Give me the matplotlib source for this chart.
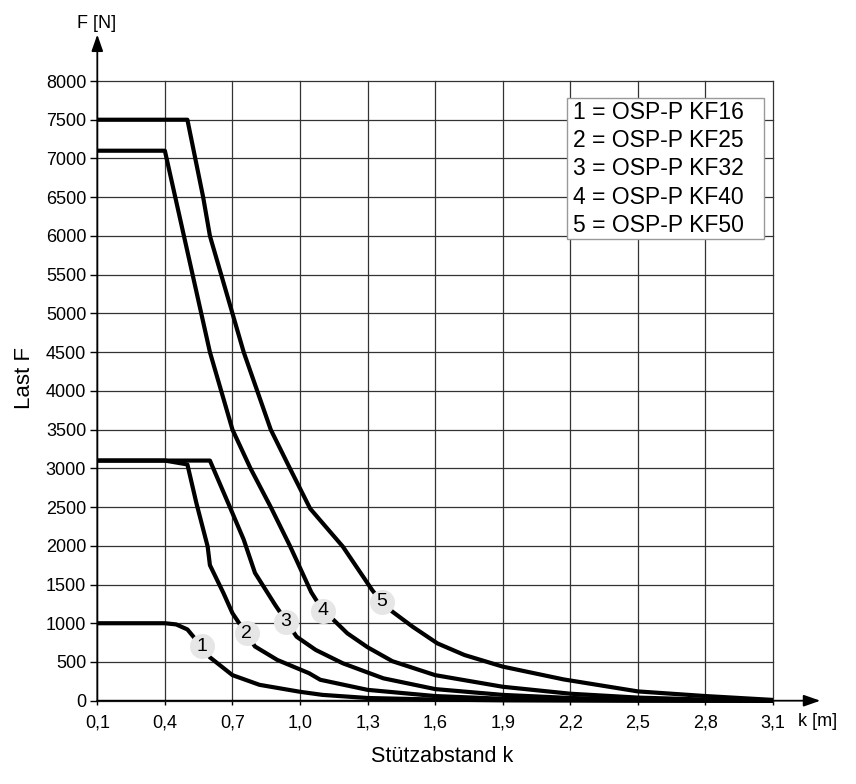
import matplotlib
matplotlib.use('Agg')
import matplotlib.pyplot as plt
from matplotlib.patches import Rectangle

plt.rcParams['font.family'] = ['Liberation Sans', 'DejaVu Sans']

# ---------------- data ----------------
x_ticks = [0.1, 0.4, 0.7, 1.0, 1.3, 1.6, 1.9, 2.2, 2.5, 2.8, 3.1]
x_tick_labels = ['0,1', '0,4', '0,7', '1,0', '1,3', '1,6', '1,9', '2,2', '2,5', '2,8', '3,1']
y_ticks = list(range(0, 8001, 500))
y_tick_labels = [str(v) for v in y_ticks]

# 1 = OSP-P KF16
k1 = [0.1, 0.4, 0.45, 0.5, 0.56, 0.6, 0.7, 0.82, 1.0, 1.1, 1.3, 1.6, 1.9, 2.2, 2.5, 2.8, 3.1]
f1 = [1000, 1000, 985, 920, 710, 560, 330, 205, 115, 75, 35, 15, 5, 2, 0, 0, 0]
# 2 = OSP-P KF25
k2 = [0.1, 0.4, 0.5, 0.54, 0.59, 0.6, 0.66, 0.7, 0.76, 0.8, 0.9, 1.04, 1.09, 1.3, 1.6, 1.9, 2.2, 2.5, 2.8, 3.1]
f2 = [3100, 3100, 3050, 2550, 1990, 1750, 1390, 1130, 870, 700, 525, 355, 270, 140, 60, 25, 10, 5, 2, 0]
# 3 = OSP-P KF32
k3 = [0.1, 0.6, 0.69, 0.75, 0.8, 0.89, 0.94, 0.985, 1.07, 1.19, 1.37, 1.6, 1.9, 2.2, 2.5, 2.8, 3.1]
f3 = [3100, 3100, 2490, 2080, 1650, 1235, 1020, 826, 655, 483, 289, 150, 75, 35, 15, 5, 0]
# 4 = OSP-P KF40
k4 = [0.1, 0.4, 0.5, 0.6, 0.65, 0.7, 0.78, 0.87, 0.955, 1.05, 1.1, 1.15, 1.21, 1.3, 1.41, 1.6, 1.9, 2.2, 2.5, 2.8, 3.1]
f4 = [7100, 7100, 5800, 4500, 4000, 3500, 3000, 2500, 2000, 1400, 1170, 1040, 870, 690, 510, 330, 180, 90, 40, 15, 0]
# 5 = OSP-P KF50
k5 = [0.1, 0.5, 0.57, 0.6, 0.65, 0.7, 0.75, 0.81, 0.87, 0.955, 1.045, 1.19, 1.32, 1.36, 1.41, 1.5, 1.61, 1.73, 1.9, 2.17, 2.5, 2.8, 3.1]
f5 = [7500, 7500, 6500, 6000, 5500, 5000, 4500, 4000, 3500, 3000, 2480, 1990, 1430, 1280, 1150, 955, 740, 590, 440, 275, 120, 60, 10]

series_k = [k1, k2, k3, k4, k5]
series_f = [f1, f2, f3, f4, f5]
series_ids = ['1', '2', '3', '4', '5']
legend_lines = ['1 = OSP-P KF16', '2 = OSP-P KF25', '3 = OSP-P KF32',
                '4 = OSP-P KF40', '5 = OSP-P KF50']
# positions of the circled curve numbers (data units)
label_k = [0.563, 0.763, 0.937, 1.103, 1.362]
label_f = [700, 870, 1020, 1162, 1278]

# ---------------- figure ----------------
W, H = 856, 784
fig = plt.figure(figsize=(W / 100, H / 100), dpi=100)
L, R, T, B = 97.3, 773.0, 81.0, 700.7
ax = fig.add_axes([L / W, 1 - B / H, (R - L) / W, (B - T) / H])
ax.set_xlim(0.1, 3.1)
ax.set_ylim(0, 8000)
for s in ax.spines.values():
    s.set_visible(False)

ax.set_xticks(x_ticks, x_tick_labels)
ax.set_yticks(y_ticks, y_tick_labels)
ax.tick_params(axis='x', direction='out', length=3, width=1, pad=7, labelsize=13)
ax.tick_params(axis='y', direction='out', length=5, width=1, pad=3, labelsize=13)
ax.set_axisbelow(True)
ax.grid(True, color='#333333', lw=0.9)
for gl in ax.get_xgridlines() + ax.get_ygridlines():
    gl.set_clip_on(False)

# axes with arrows
ap = dict(arrowstyle='-|>,head_length=1.0,head_width=0.35', color='black',
          lw=1.3, shrinkA=0, shrinkB=0, mutation_scale=10)
ax.annotate('', xy=(3.31, 0), xytext=(0.1, 0), arrowprops=ap, annotation_clip=False)
ax.annotate('', xy=(0.1, 8600), xytext=(0.1, 0), arrowprops=ap, annotation_clip=False)

for k, f in zip(series_k, series_f):
    ax.plot(k, f, color='black', lw=3, solid_joinstyle='round',
            solid_capstyle='butt', zorder=3, clip_on=False)

for lk, lf, t in zip(label_k, label_f, series_ids):
    ax.plot([lk], [lf], 'o', ms=18, mfc='#e6e6e6', mec='none', zorder=4)
    ax.text(lk, lf, t, ha='center', va='center', fontsize=14, zorder=5)

# legend box
bl = (567 - L) / (R - L)
br = (764 - L) / (R - L)
bt = (B - 98) / (B - T)
bb = (B - 239) / (B - T)
ax.add_patch(Rectangle((bl, bb), br - bl, bt - bb, transform=ax.transAxes,
                       fc='white', ec='#999999', lw=1, zorder=6))
for i, line in enumerate(legend_lines):
    yb = 118.8 + i * 28.3
    ax.text((572.7 - L) / (R - L), (B - yb) / (B - T), line, transform=ax.transAxes,
            ha='left', va='baseline', fontsize=16.5, zorder=7)

fig.text(25 / W, 1 - 378 / H, 'Last F', rotation=90, ha='center', va='center', fontsize=16)
fig.text(442 / W, 1 - 757 / H, 'Stützabstand k', ha='center', va='center', fontsize=15.5)
fig.text(97 / W, 1 - 23 / H, 'F [N]', ha='center', va='center', fontsize=13)
fig.text(818 / W, 1 - 722 / H, 'k [m]', ha='center', va='center', fontsize=13)

fig.savefig('out.png', dpi=100)
